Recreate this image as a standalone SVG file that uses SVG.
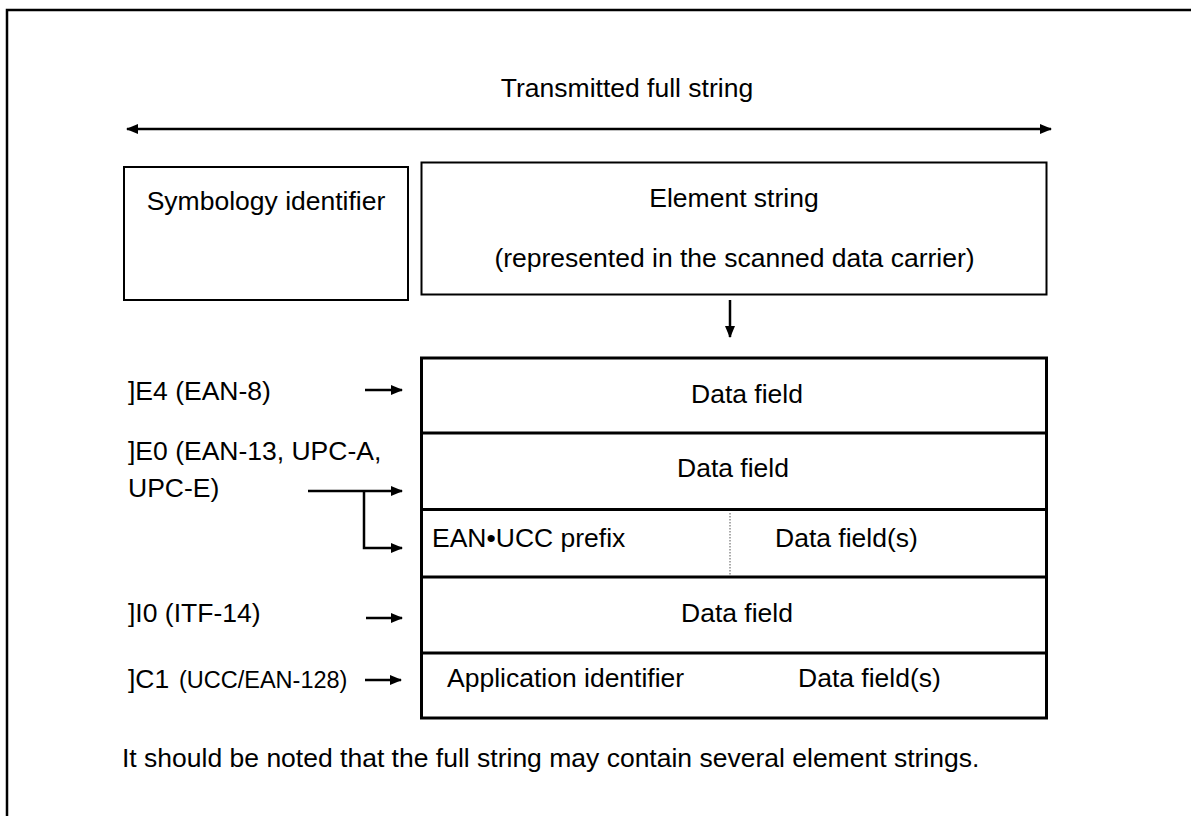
<svg xmlns="http://www.w3.org/2000/svg" width="1191" height="816" viewBox="0 0 1191 816">
<defs>
<marker id="ah" markerUnits="userSpaceOnUse" markerWidth="12" markerHeight="10" refX="11" refY="5" orient="auto-start-reverse">
<path d="M0,0 L12,5 L0,10 z" fill="#000"/>
</marker>
<style>
text{font-family:"Liberation Sans",Arial,sans-serif;font-size:26.5px;fill:#000}
.box{fill:#fff;stroke:#000;stroke-width:2}
.tbl{fill:none;stroke:#000;stroke-width:3}
.conn{fill:none;stroke:#000;stroke-width:2.5}
.m{text-anchor:middle}
</style>
</defs>
<rect x="0" y="0" width="1191" height="816" fill="#fff"/>
<rect id="frame" x="7" y="10" width="1300" height="1000" fill="none" stroke="#000" stroke-width="2.5"/>
<text id="title" class="m" x="627" y="97">Transmitted full string</text>
<g id="connectors">
<line class="conn" x1="127" y1="129" x2="1051" y2="129" marker-start="url(#ah)" marker-end="url(#ah)"/>
<line class="conn" x1="730" y1="300" x2="730" y2="337" marker-end="url(#ah)"/>
<line class="conn" x1="365" y1="390" x2="402" y2="390" marker-end="url(#ah)"/>
<line class="conn" x1="308" y1="491" x2="402" y2="491" marker-end="url(#ah)"/>
<polyline class="conn" points="364,491 364,548 402,548" marker-end="url(#ah)"/>
<line class="conn" x1="366" y1="618" x2="402" y2="618" marker-end="url(#ah)"/>
<line class="conn" x1="365" y1="680" x2="401" y2="680" marker-end="url(#ah)"/>
</g>
<g id="symbology">
<rect class="box" x="124" y="167" width="284" height="133"/>
<text class="m" x="266" y="210">Symbology identifier</text>
</g>
<g id="element">
<rect class="box" x="421.5" y="162.5" width="625" height="132"/>
<text class="m" x="734" y="207">Element string</text>
<text class="m" x="734.5" y="267">(represented in the scanned data carrier)</text>
</g>
<g id="table">
<rect class="tbl" x="421.5" y="358" width="625" height="360"/>
<line class="tbl" x1="421.5" y1="433" x2="1046.5" y2="433"/>
<line class="tbl" x1="421.5" y1="509.5" x2="1046.5" y2="509.5"/>
<line class="tbl" x1="421.5" y1="577" x2="1046.5" y2="577"/>
<line class="tbl" x1="421.5" y1="653" x2="1046.5" y2="653"/>
<line x1="730" y1="513" x2="730" y2="575" stroke="#555" stroke-width="1" stroke-dasharray="1.5 1.5"/>
</g>
<g id="row1"><text class="m" x="747" y="403">Data field</text></g>
<g id="row2"><text class="m" x="733" y="477">Data field</text></g>
<g id="row3"><text x="432" y="547">EAN•UCC prefix</text><text x="775" y="547">Data field(s)</text></g>
<g id="row4"><text class="m" x="737" y="622">Data field</text></g>
<g id="row5"><text x="447" y="687">Application identifier</text><text x="798" y="687">Data field(s)</text></g>
<g id="lbl-e4"><text x="128" y="400">]E4 (EAN-8)</text></g>
<g id="lbl-e0"><text x="128" y="460">]E0 (EAN-13, UPC-A,</text><text x="128" y="497">UPC-E)</text></g>
<g id="lbl-i0"><text x="128" y="622">]I0 (ITF-14)</text></g>
<g id="lbl-c1"><text x="128" y="688">]C1 <tspan x="179" style="font-size:23.5px">(UCC/EAN-128)</tspan></text></g>
<text id="note" x="122" y="767">It should be noted that the full string may contain several element strings.</text>
</svg>
